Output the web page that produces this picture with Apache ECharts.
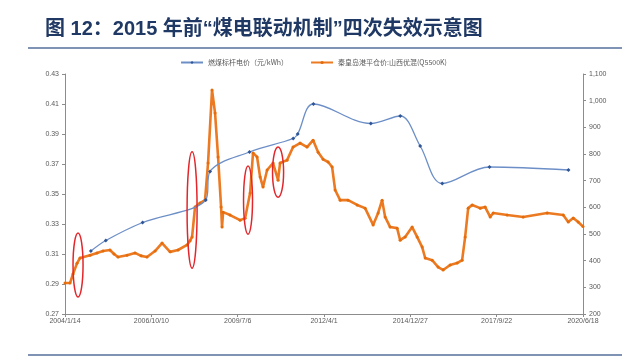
<!DOCTYPE html>
<html><head><meta charset="utf-8">
<script src="https://cdn.jsdelivr.net/npm/echarts@6/dist/echarts.min.js"></script>
<style>html,body{margin:0;padding:0;background:#fff}#c{width:627px;height:359px}</style>
</head><body><div id="c"></div>
<script>
// x values are days since 2004/1/14; ticks every 1000 days
const xTickLabels = ['2004/1/14','2006/10/10','2009/7/6','2012/4/1','2014/12/27','2017/9/22','2020/6/18'];
const leftTicks = [0.27,0.43];
const rightTicks = [200,1100];

// 燃煤标杆电价 (元/kWh) – adjustment points
const tariffDays = [300, 473, 899, 1630, 1680, 2137, 2643, 2695, 2878, 3542, 3883, 4114, 4370, 4917, 5831];
const tariffVals = [0.312, 0.319, 0.331, 0.346, 0.365, 0.378, 0.387, 0.390, 0.410, 0.397, 0.402, 0.382, 0.357, 0.368, 0.366];

// 秦皇岛港平仓价 (元/吨)
const coalDays = [0, 58, 93, 139, 174, 290, 371, 440, 521, 568, 614, 718, 811, 881, 950, 1043, 1124, 1217, 1309, 1414, 1449, 1472, 1506, 1564, 1622, 1657, 1703, 1738, 1773, 1808, 1819, 1831, 1912, 2028, 2086, 2144, 2178, 2225, 2260, 2294, 2341, 2410, 2468, 2491, 2572, 2642, 2723, 2804, 2874, 2932, 2990, 3048, 3094, 3129, 3187, 3279, 3384, 3476, 3569, 3627, 3673, 3708, 3766, 3847, 3882, 3940, 4021, 4079, 4137, 4172, 4253, 4322, 4380, 4461, 4542, 4600, 4635, 4670, 4716, 4809, 4867, 4925, 4960, 5122, 5307, 5585, 5771, 5829, 5887, 5944, 6000];
const coalVals = [316, 316, 350, 390, 410, 420, 429, 436, 440, 425, 414, 420, 429, 418, 414, 436, 466, 433, 440, 459, 475, 489, 601, 616, 627, 766, 1040, 954, 789, 601, 526, 582, 571, 552, 559, 654, 804, 789, 714, 676, 740, 766, 702, 766, 777, 826, 841, 826, 852, 807, 780, 770, 751, 665, 627, 627, 609, 597, 534, 579, 627, 564, 526, 522, 477, 489, 526, 489, 451, 410, 402, 376, 365, 384, 391, 402, 489, 597, 609, 597, 601, 564, 579, 571, 564, 579, 571, 545, 560, 545, 528];

// four failure annotations: [centerDay, centerValue(right axis), halfWidthDays, halfHeightValue]
const failDays = [151, 1472, 2120, 2468];
const failVals = [384, 590, 627, 732];
const failHalfW = [58, 58, 52, 64];
const failHalfH = [120, 218, 128, 94];

const seriesNames = ['燃煤标杆电价（元/kWh）', '秦皇岛港平仓价:山西优混(Q5500K)'];

const chart = echarts.init(document.getElementById('c'));
const axisLabel = {fontSize: 7, color: '#595959', fontFamily: 'Liberation Sans'};
const axisLine = {show: true, lineStyle: {color: '#8c8c8c', width: 1}};
const frame = [
  {type: 'line', shape: {x1: 28, y1: 48, x2: 622, y2: 48}, style: {stroke: '#7f93b5', lineWidth: 2}},
  {type: 'line', shape: {x1: 28, y1: 355, x2: 622, y2: 355}, style: {stroke: '#7f93b5', lineWidth: 2}}
];
chart.setOption({
  animation: false,
  title: {text: '图 12：2015 年前“煤电联动机制”四次失效示意图', left: 40, top: 14,
    textStyle: {fontSize: 20, fontWeight: 'bold', color: '#1f3864', fontFamily: '"Liberation Sans", "Noto Sans CJK SC"'}},
  legend: {top: 54, left: 'center', itemWidth: 22, itemHeight: 4, itemGap: 22,
    textStyle: {fontSize: 7, color: '#595959', fontFamily: 'Noto Sans CJK SC'},
    data: seriesNames},
  grid: {left: 65, right: 44, top: 74, bottom: 45},
  xAxis: {type: 'value', min: 0, max: 6000, interval: 1000,
    axisLine: axisLine, axisTick: {show: true, length: 3, lineStyle: {color: '#8c8c8c'}},
    splitLine: {show: false},
    axisLabel: Object.assign({}, axisLabel, {margin: 4, formatter: v => xTickLabels[Math.round(v / 1000)] || ''})},
  yAxis: [
    {type: 'value', min: leftTicks[0], max: leftTicks[1], interval: 0.02, position: 'left',
      axisLine: axisLine, axisTick: {show: true, length: 3, lineStyle: {color: '#8c8c8c'}}, splitLine: {show: false},
      axisLabel: Object.assign({}, axisLabel, {margin: 6, formatter: v => v.toFixed(2)})},
    {type: 'value', min: rightTicks[0], max: rightTicks[1], interval: 100, position: 'right',
      axisLine: axisLine, axisTick: {show: true, length: 3, lineStyle: {color: '#8c8c8c'}}, splitLine: {show: false},
      axisLabel: Object.assign({}, axisLabel, {margin: 6, formatter: v => v.toLocaleString('en-US')})}
  ],
  series: [
    {name: seriesNames[0], type: 'line', yAxisIndex: 0, smooth: 0.35,
      data: tariffDays.map((d, i) => [d, tariffVals[i]]),
      symbol: 'diamond', symbolSize: 4,
      itemStyle: {color: '#2f5597'}, lineStyle: {color: '#6d8fc7', width: 1.3}, z: 3},
    {name: seriesNames[1], type: 'line', yAxisIndex: 1,
      data: coalDays.map((d, i) => [d, coalVals[i]]),
      symbol: 'circle', symbolSize: 3, showSymbol: true,
      itemStyle: {color: '#e46c0a'}, lineStyle: {color: '#ec7a22', width: 2.6}, z: 2}
  ],
  graphic: frame
});

const ells = failDays.map((d, i) => {
  const c = chart.convertToPixel({xAxisIndex: 0, yAxisIndex: 1}, [d, failVals[i]]);
  const e = chart.convertToPixel({xAxisIndex: 0, yAxisIndex: 1}, [d + failHalfW[i], failVals[i] + failHalfH[i]]);
  return {type: 'ellipse', z: 10, shape: {cx: c[0], cy: c[1], rx: Math.abs(e[0] - c[0]), ry: Math.abs(c[1] - e[1])},
    style: {fill: 'none', stroke: '#e3262b', lineWidth: 1.5}};
});
chart.setOption({graphic: frame.concat(ells)});
</script></body></html>
